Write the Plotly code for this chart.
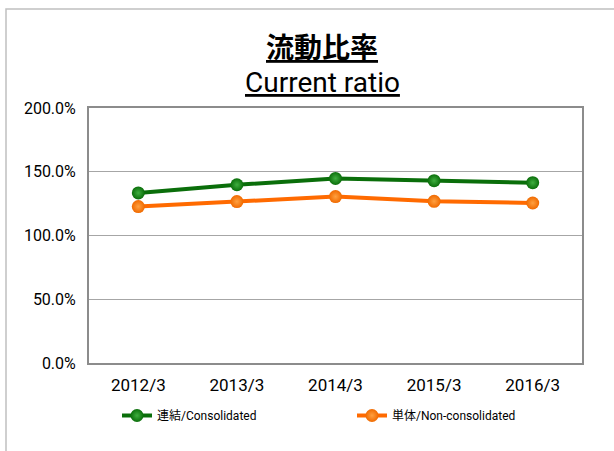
import plotly.graph_objects as go

categories = ["2012/3", "2013/3", "2014/3", "2015/3", "2016/3"]
consolidated = [133.4, 139.8, 144.8, 143.0, 141.4]
non_consolidated = [122.7, 126.6, 130.5, 126.8, 125.5]
y_ticks = [0, 50, 100, 150, 200]
y_tick_labels = ["0.0%", "50.0%", "100.0%", "150.0%", "200.0%"]

FONT = "Roboto, Noto Sans CJK JP, sans-serif"

fig = go.Figure()
fig.add_trace(go.Scatter(
    x=categories, y=consolidated, name="連結/Consolidated", mode="lines+markers",
    line=dict(color="#0a6e0a", width=4), legend="legend",
    marker=dict(size=13, color="#0a6e0a", gradient=dict(type="radial", color="#3fae3f")),
))
fig.add_trace(go.Scatter(
    x=categories, y=non_consolidated, name="単体/Non-consolidated", mode="lines+markers",
    line=dict(color="#ff6a00", width=4), legend="legend2",
    marker=dict(size=13, color="#f06a00", gradient=dict(type="radial", color="#ffa040")),
))

L, R, T, B = 89, 32, 108, 88
W, H = 614, 451
pw, ph = W - L - R, H - T - B

def px(x):
    return (x - L) / pw

def py(y):
    return (H - B - y) / ph

fig.add_shape(type="rect", xref="paper", yref="paper",
              x0=px(6), x1=px(616), y0=py(9), y1=py(455),
              line=dict(color="#c0c0c0", width=1.5), layer="below")

fig.add_annotation(text="<u>流動比率</u>", xref="paper", yref="paper",
                   x=px(322), y=py(46), showarrow=False, xanchor="center", yanchor="middle",
                   font=dict(family="Noto Sans CJK JP", size=28, color="#000", weight="bold"))
fig.add_annotation(text="<u>Current ratio</u>", xref="paper", yref="paper",
                   x=px(322), y=py(83), showarrow=False, xanchor="center", yanchor="middle",
                   font=dict(family=FONT, size=28, color="#000"))

leg_common = dict(orientation="h", xref="container", yref="container",
                  xanchor="left", yanchor="top",
                  font=dict(family=FONT, size=12, color="#000"),
                  bgcolor="rgba(0,0,0,0)")

fig.update_layout(
    width=W, height=H,
    margin=dict(l=L, r=R, t=T, b=B, autoexpand=False),
    paper_bgcolor="white", plot_bgcolor="white",
    font=dict(family=FONT, size=16, color="#000"),
    showlegend=True,
    legend=dict(x=117 / W, y=1 - 401 / H, **leg_common),
    legend2=dict(x=352 / W, y=1 - 401 / H, **leg_common),
    xaxis=dict(type="category", range=[-0.5, 4.5], showgrid=False, automargin=False,
               showline=True, linecolor="#8c8c8c", linewidth=2, mirror=True,
               ticks="", tickfont=dict(size=17), ticklabelstandoff=6),
    yaxis=dict(range=[0, 200], tickvals=y_ticks, ticktext=y_tick_labels, automargin=False,
               showgrid=True, gridcolor="#a6a6a6", gridwidth=1.3,
               showline=True, linecolor="#8c8c8c", linewidth=2, mirror=True,
               ticks="", tickfont=dict(size=16), ticklabelstandoff=8, zeroline=False),
)

fig.write_html("out.html", config={"displayModeBar": False},
               post_script="document.body.style.margin='0';document.body.style.overflow='hidden';")
